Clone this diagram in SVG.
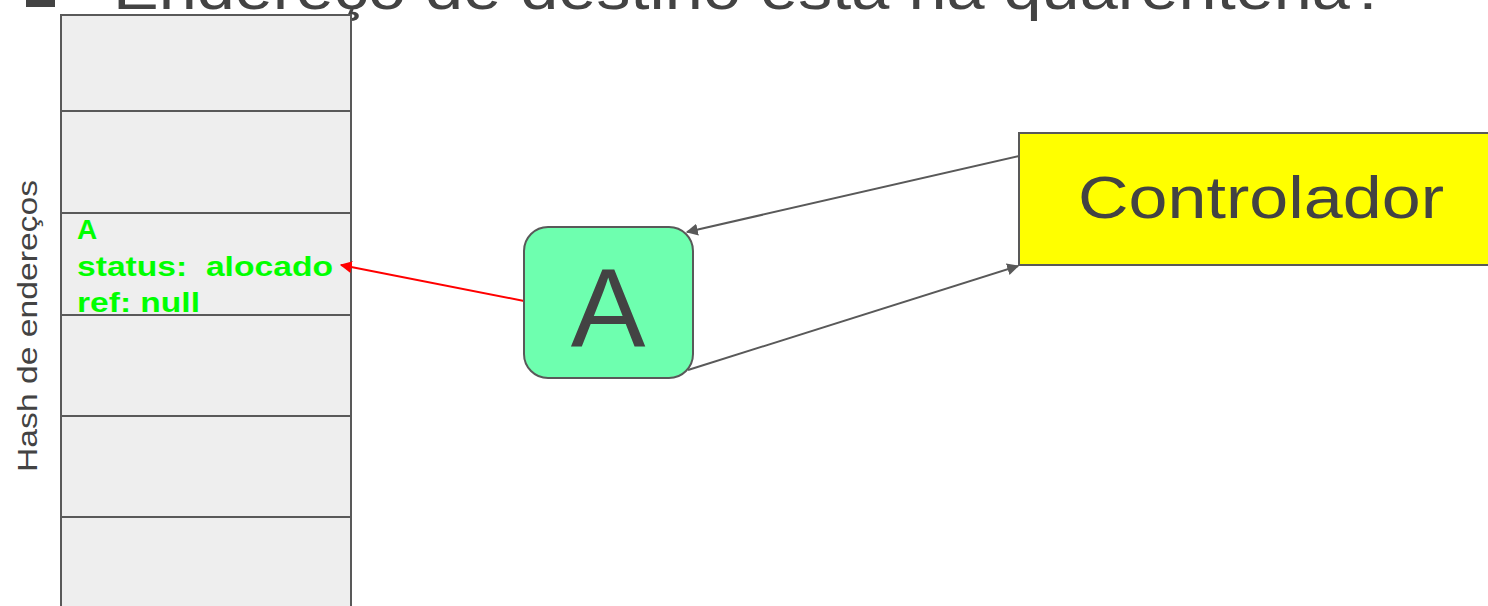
<svg xmlns="http://www.w3.org/2000/svg" width="1488" height="606" viewBox="0 0 1488 606">
<style>
.cell{fill:#eeeeee;stroke:#595959;stroke-width:2}
.dark{fill:#434343;font-family:"Liberation Sans","DejaVu Sans",sans-serif}
.green{fill:#00ff00;font-family:"Liberation Sans",sans-serif;font-weight:bold;font-size:28px}
.conn{stroke:#595959;stroke-width:2;fill:none}
</style>
<defs>
<marker id="ag" viewBox="0 0 10 10" refX="9" refY="5" markerWidth="6" markerHeight="6" orient="auto" markerUnits="strokeWidth"><path d="M0,0 L10,5 L0,10 z" fill="#595959"/></marker>
<marker id="ar" viewBox="0 0 10 10" refX="9" refY="5" markerWidth="6" markerHeight="6" orient="auto" markerUnits="strokeWidth"><path d="M0,0 L10,5 L0,10 z" fill="#ff0000"/></marker>
</defs>
<g id="title">
<rect x="26" y="-10" width="29" height="17" fill="#434343"/>
<text class="dark" x="113" y="9" font-size="60" textLength="1275" lengthAdjust="spacingAndGlyphs">Endereço de destino está na quarentena?</text>
</g>
<g id="hash-table">
<rect class="cell" x="61" y="15" width="290" height="600"/>
<line class="cell" x1="61" y1="111" x2="351" y2="111"/>
<line class="cell" x1="61" y1="213" x2="351" y2="213"/>
<line class="cell" x1="61" y1="315" x2="351" y2="315"/>
<line class="cell" x1="61" y1="416" x2="351" y2="416"/>
<line class="cell" x1="61" y1="517" x2="351" y2="517"/>
<text class="green" x="77" y="239">A</text>
<text class="green" x="77" y="276" textLength="256" lengthAdjust="spacingAndGlyphs" xml:space="preserve">status:  alocado</text>
<text class="green" x="77" y="312" textLength="123" lengthAdjust="spacingAndGlyphs">ref: null</text>
</g>
<g id="hash-label">
<text class="dark" font-size="28" text-anchor="middle" transform="translate(37,326) rotate(-90)" textLength="292" lengthAdjust="spacingAndGlyphs">Hash de endereços</text>
</g>
<g id="connectors">
<line x1="524" y1="301" x2="341" y2="265" stroke="#ff0000" stroke-width="2" marker-end="url(#ar)"/>
<line class="conn" x1="1019" y1="156" x2="687" y2="232" marker-end="url(#ag)"/>
<line class="conn" x1="688" y1="370" x2="1018" y2="266" marker-end="url(#ag)"/>
</g>
<g id="node-A">
<rect x="524" y="227" width="169" height="151" rx="24" fill="#6effaf" stroke="#595959" stroke-width="2"/>
<text class="dark" x="608" y="346" font-size="112" text-anchor="middle">A</text>
</g>
<g id="controlador">
<rect x="1019" y="133" width="480" height="132" fill="#ffff00" stroke="#595959" stroke-width="2"/>
<text class="dark" x="1261" y="218" font-size="60" text-anchor="middle" textLength="366" lengthAdjust="spacingAndGlyphs">Controlador</text>
</g>
</svg>
